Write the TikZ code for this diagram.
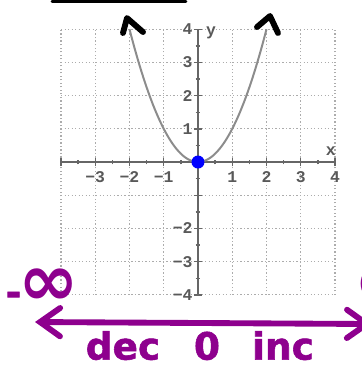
\documentclass[tikz,border=0pt]{standalone}
\usepackage{fontspec}
\usetikzlibrary{arrows.meta}
\newfontfamily\handfont[FakeBold=1.5]{DejaVu Sans}
\newfontfamily\inffont{DejaVu Sans}
\newfontfamily\tickfont{Liberation Mono}
\definecolor{pen}{RGB}{142,0,142}
\tikzset{
  gridline/.style={gray!65,line width=1.1pt,dash pattern=on 1.1pt off 1.9pt},
  axis/.style={black!60,line width=2pt},
  ticklab/.style={font=\tickfont\bfseries\fontsize{14}{14}\selectfont,text=black!65,inner sep=1pt},
  ink/.style={line width=5pt,line cap=round,line join=round},
  hand/.style={font=\handfont\bfseries\fontsize{32}{32}\selectfont,text=pen,inner sep=0pt},
  infsign/.style={font=\inffont\bfseries\fontsize{62}{62}\selectfont,text=pen,inner sep=0pt},
}

\begin{document}
\begin{tikzpicture}[x=1.0275cm,y=0.996cm]
\useasboundingbox (-5.781,-6.114) rectangle (4.788,4.880);
\clip (-5.781,-6.114) rectangle (4.788,4.880);
% grid
\foreach \i in {-4,...,4} {\draw[gridline] (\i,-4)--(\i,4); \draw[gridline] (-4,\i)--(4,\i);}
% axes and ticks
\draw[axis] (-4,0)--(4,0); \draw[axis] (0,-4)--(0,4);
\foreach \t in {-4,...,4} {\draw[black!60,line width=1.2pt] (\t,-.13)--(\t,.13) (-.13,\t)--(.13,\t);}
\foreach \t in {-3.5,-2.5,...,3.5} {\draw[black!60,line width=1.2pt] (\t,-.07)--(\t,.07) (-.07,\t)--(.07,\t);}
\foreach \n/\s in {-3/m3,-2/m2,-1/m1} {\node[ticklab] (x\s) at (\n,-.45) {−\the\numexpr-\n\relax};}
\foreach \n in {1,2,3,4} {\node[ticklab] (x\n) at (\n,-.45) {\n};}
\foreach \n in {1,2,3,4} {\node[ticklab,anchor=east] (y\n) at (-.12,\n) {\n};}
\foreach \n/\s in {-2/m2,-3/m3,-4/m4} {\node[ticklab,anchor=east] (y\s) at (-.12,\n) {−\the\numexpr-\n\relax};}
\node[ticklab] (ylab) at (.38,3.89) {y};
\node[ticklab] (xlab) at (3.88,.33) {x};
% parabola
\draw[black!45,line width=1.7pt,domain=-2:2,samples=60] plot (\x,{\x*\x});
\node[circle,fill=blue,inner sep=0pt,minimum size=0.39cm] (vertex) at (0,0) {};
% black pen marks
\draw[ink,line width=2.5pt] (-4.263,4.84)--(-.35,4.84);
\draw[ink] (-2.19,3.886)--(-2.073,4.337)--(-1.606,3.916);
\draw[ink] (1.723,4.066)--(2.102,4.398)--(2.336,3.886);
% purple notes
\node[infsign,anchor=west] (minf) at (-5.62,-3.765) {{\handfont\fontsize{32}{32}\selectfont-}\kern-2pt∞};
\node[infsign] (pinf) at (5.45,-3.765) {∞};
\coordinate (lend) at (-4.759,-4.819);
\coordinate (rend) at (5.08,-4.88);
\draw[pen,line width=5pt,line cap=round,{Straight Barb[length=0.6cm,width=0.85cm,line cap=round]}-{Straight Barb[length=0.6cm,width=0.85cm,line cap=round]}] (lend)--(rend);
\node[hand,anchor=base] (dec) at (-2.19,-5.95) {dec};
\node[hand,anchor=base] (zero) at (.263,-5.95) {0};
\node[hand,anchor=base] (inc) at (2.482,-5.95) {inc};
\end{tikzpicture}
\end{document}
